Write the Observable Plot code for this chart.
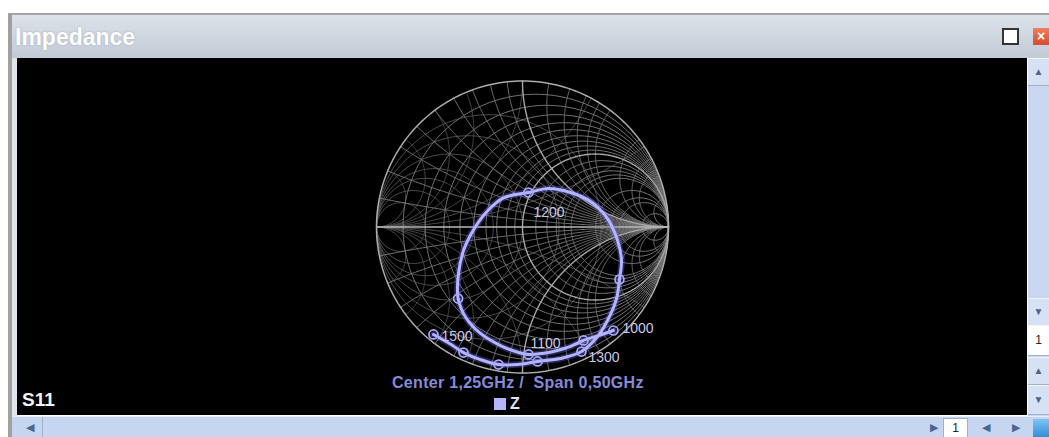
<!DOCTYPE html>
<html><head><meta charset="utf-8">
<script src="https://cdn.jsdelivr.net/npm/d3@7"></script>
<script src="https://cdn.jsdelivr.net/npm/@observablehq/plot@0.6"></script>
<style>
body{margin:0;width:1049px;height:437px;overflow:hidden;background:#fff;font-family:"Liberation Sans",Arial,sans-serif;position:relative}
.abs{position:absolute}
#topline{left:8px;top:13px;width:1041px;height:2px;background:#a4a4a4}
#leftb{left:8px;top:13px;width:4px;height:424px;background:#a0a0a0}
#leftb2{left:12px;top:15px;width:5px;height:422px;background:#dfe5ec}
#titlebar{left:12px;top:15px;width:1037px;height:43px;background:linear-gradient(#dbe2ea,#c2cbd6)}
#title{left:15px;top:24px;font-size:23px;font-weight:bold;color:#fff;text-shadow:0 0 2px #9aa6b4}
#maxbtn{left:1002px;top:28px;width:13px;height:13px;border:2px solid #333;background:#fff}
#closebtn{left:1033px;top:28px;width:16px;height:17px;background:linear-gradient(#f08060,#d84a2a);color:#fff;font-size:14px;font-weight:bold;line-height:17px;text-align:center}
#panel{left:17px;top:58px;width:1010px;height:357px;background:#000;overflow:hidden}
#vscroll{left:1028px;top:58px;width:21px;height:358px;background:#c8d7ef}
#hscroll{left:12px;top:416px;width:1037px;height:21px;background:#c6d6f0;border-top:1px solid #e8eef8}
.btn{position:absolute;left:0;width:21px;background:#d6e2f4;border-top:1px solid #f2f6fc;border-bottom:1px solid #9fb1cc;color:#4b6592;font-size:10px;text-align:center}
#caption{left:375px;top:316px;font-size:16px;font-weight:bold;color:#868ad8;white-space:pre;letter-spacing:0.3px}
#legsw{left:477px;top:340px;width:12px;height:12px;background:#b4b4ff}
#legtx{left:493px;top:337px;font-size:16px;font-weight:bold;color:#e4e4f4}
#s11{left:5px;top:331px;font-size:19px;font-weight:bold;color:#f4f4f4}
</style></head><body>
<div class="abs" id="topline"></div>
<div class="abs" id="leftb"></div>
<div class="abs" id="leftb2"></div>
<div class="abs" id="titlebar"></div>
<div class="abs" id="title">Impedance</div>
<div class="abs" id="maxbtn"></div>
<div class="abs" id="closebtn">×</div>
<div class="abs" id="panel">
  <div class="abs" id="chart" style="left:0;top:0"></div>
  <div class="abs" id="caption">Center 1,25GHz /  Span 0,50GHz</div>
  <div class="abs" id="legsw"></div>
  <div class="abs" id="legtx">Z</div>
  <div class="abs" id="s11">S11</div>
</div>
<div class="abs" id="vscroll">
  <div class="btn" style="top:0;height:26px;line-height:26px">▲</div>
  <div class="btn" style="top:240px;height:26px;line-height:26px">▼</div>
  <div class="btn" style="top:267px;height:29px;line-height:29px;background:#fff;color:#222;font-size:12px">1</div>
  <div class="btn" style="top:299px;height:26px;line-height:26px">▲</div>
  <div class="btn" style="top:327px;height:28px;line-height:28px">▼</div>
</div>
<div class="abs" id="hscroll">
  <div class="abs" style="left:14px;top:4px;color:#4b6592;font-size:11px">◀</div>
  <div class="abs" style="left:30px;top:0;width:1px;height:21px;background:#9fb1cc"></div>
  <div class="abs" style="left:918px;top:4px;color:#4b6592;font-size:11px">▶</div>
  <div class="abs" style="left:931px;top:1px;width:23px;height:19px;background:#fff;border:1px solid #9fb1cc;font-size:12px;text-align:center;line-height:19px;color:#222">1</div>
  <div class="abs" style="left:970px;top:4px;color:#4b6592;font-size:11px">◀</div>
  <div class="abs" style="left:1000px;top:4px;color:#4b6592;font-size:11px">▶</div>
  <div class="abs" style="left:1021px;top:2px;width:16px;height:18px;background:linear-gradient(#7fc4f4,#2f8fd8)"></div>
</div>
<script>
// Smith chart grid values (normalized)
const zResist = [0.1,0.2,0.3,0.4,0.5,0.6,0.7,0.8,0.9,1.2,1.4,1.6,1.8,2,3,4,5,10];
const zReact  = [0.1,0.2,0.3,0.4,0.5,0.6,0.7,0.8,0.9,1.2,1.4,1.6,1.8,2,3,4,5,10];
const yValues = [0.3,0.6,1,1.5,2,3,5];
const majorValues = [1];

// Measured S11 trace (reflection coefficient, real / imaginary), 1.0 -> 1.5 GHz
const traceRe = [0.623,0.521,0.418,0.329,0.240,0.137,0.041,-0.048,-0.151,-0.288,-0.384,-0.441,-0.440,-0.404,-0.336,-0.240,-0.130,0.041,0.178,0.329,0.466,0.582,0.651,0.678,0.664,0.644,0.589,0.514,0.404,0.260,0.103,-0.034,-0.164,-0.288,-0.404,-0.500,-0.610];
const traceIm = [-0.709,-0.743,-0.777,-0.818,-0.846,-0.866,-0.873,-0.853,-0.812,-0.729,-0.627,-0.490,-0.332,-0.161,-0.020,0.110,0.200,0.236,0.264,0.236,0.175,0.058,-0.092,-0.229,-0.360,-0.490,-0.627,-0.750,-0.853,-0.901,-0.921,-0.942,-0.942,-0.908,-0.860,-0.798,-0.736];

// Markers every 50 MHz
const markerFreq = [1000,1050,1100,1150,1200,1250,1300,1350,1400,1450,1500];
const markerRe = [0.623,0.418,0.041,-0.441,0.041,0.664,0.404,0.103,-0.164,-0.404,-0.610];
const markerIm = [-0.709,-0.777,-0.873,-0.490,0.236,-0.360,-0.853,-0.921,-0.942,-0.860,-0.736];
const labelFreq = [1000,1100,1200,1300,1500];

const W = 1010, H = 318, cx = 505, cy = 168.5, R = 146;

// grid geometry helpers
function gamma(re, im) {
  const d = (re + 1) * (re + 1) + im * im;
  return [(re * re - 1 + im * im) / d, (2 * im) / d];
}
const N = 240;
function rCircle(r, sign, id) {
  const pts = [];
  for (let i = 1; i < N; i++) {
    const t = Math.tan(-Math.PI / 2 + Math.PI * i / N);
    const [u, v] = gamma(r, t);
    pts.push({u: sign * u, v: sign * v, id});
  }
  pts.unshift({u: sign, v: 0, id});
  pts.push({u: sign, v: 0, id});
  return pts;
}
function xArc(x, sign, id) {
  const pts = [];
  for (let i = 0; i < N; i++) {
    const s = Math.tan(Math.PI / 2 * i / N);
    const [u, v] = gamma(s, x);
    pts.push({u: sign * u, v: sign * v, id});
  }
  pts.push({u: sign, v: 0, id});
  return pts;
}
const minorZ = [], minorY = [], major = [];
zResist.forEach((r, i) => minorZ.push(...rCircle(r, 1, "zr" + i)));
zReact.forEach((x, i) => { minorZ.push(...xArc(x, 1, "zxp" + i)); minorZ.push(...xArc(-x, 1, "zxn" + i)); });
yValues.forEach((g, i) => {
  minorY.push(...rCircle(g, -1, "yg" + i));
  minorY.push(...xArc(g, -1, "ybp" + i));
  minorY.push(...xArc(-g, -1, "ybn" + i));
});
majorValues.forEach((m, i) => {
  major.push(...rCircle(m, 1, "mr" + i));
  major.push(...xArc(m, 1, "mxp" + i));
  major.push(...xArc(-m, 1, "mxn" + i));
});
const outer = rCircle(0, 1, "outer");
const axisLine = [{u: -1, v: 0}, {u: 1, v: 0}];

const trace = traceRe.map((re, i) => ({u: re, v: traceIm[i]}));
const markers = markerFreq.map((f, i) => ({f, u: markerRe[i], v: markerIm[i]}));
const labelOffset = {1000: [9, -2], 1100: [2, -11], 1200: [5, 20], 1300: [7, 6], 1500: [8, 2]};

const chart = Plot.plot({
  width: W, height: H, margin: 0,
  style: {background: "black", overflow: "visible"},
  x: {domain: [-1, 1], range: [cx - R, cx + R], axis: null},
  y: {domain: [-1, 1], range: [cy + R, cy - R], axis: null},
  marks: [
    Plot.line(minorY, {x: "u", y: "v", z: "id", stroke: "#555555", strokeWidth: 0.9}),
    Plot.line(minorZ, {x: "u", y: "v", z: "id", stroke: "#747474", strokeWidth: 1}),
    Plot.line(major, {x: "u", y: "v", z: "id", stroke: "#a6a6a6", strokeWidth: 1.4}),
    Plot.line(outer, {x: "u", y: "v", stroke: "#acacac", strokeWidth: 1.5}),
    Plot.line(axisLine, {x: "u", y: "v", stroke: "#b8b8b8", strokeWidth: 1.4}),
    Plot.line(trace, {x: "u", y: "v", curve: "catmull-rom", stroke: "#7070ff", strokeWidth: 6.5, strokeOpacity: 0.35}),
    Plot.line(trace, {x: "u", y: "v", curve: "catmull-rom", stroke: "#b4b4ff", strokeWidth: 3}),
    Plot.dot(markers, {x: "u", y: "v", r: 4.5, stroke: "#a8a8ff", strokeWidth: 1.7, fill: "none"}),
    ...labelFreq.map(f => Plot.text(markers.filter(d => d.f === f), {
      x: "u", y: "v", text: d => String(d.f), textAnchor: "start",
      dx: labelOffset[f][0], dy: labelOffset[f][1],
      fill: "#c8c8e8", fontSize: 14, fontFamily: "Liberation Sans, Arial, sans-serif"
    }))
  ]
});
document.getElementById("chart").appendChild(chart);
</script>
</body></html>
